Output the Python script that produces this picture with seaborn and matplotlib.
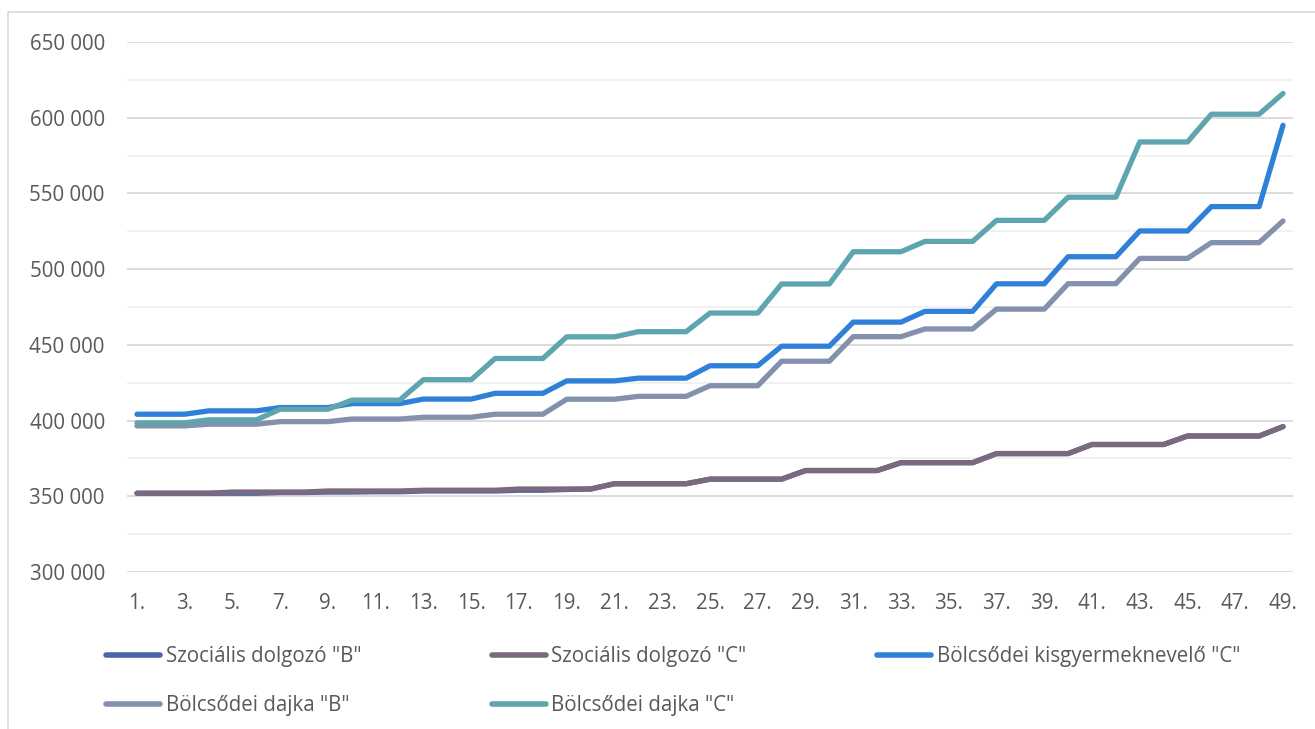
import pandas as pd
import matplotlib.pyplot as plt
import seaborn as sns
from matplotlib.patches import Rectangle
from matplotlib.ticker import MultipleLocator, FuncFormatter

# ------------------------------------------------------------------
# DATA
# ------------------------------------------------------------------
years = list(range(1, 50))
tick_years = list(range(1, 50, 2))
tick_labels = [f"{y}." for y in tick_years]

szoc_b = [352000, 352000, 352000, 352000,
          352000, 352000, 352500, 352500,
          352800, 352800, 353000, 353000,
          353500, 353500, 353500, 353500,
          354000, 354000, 354500, 354800,
          358300, 358300, 358300, 358300,
          361300, 361300, 361300, 361300,
          367000, 367000, 367000, 367000,
          372200, 372200, 372200, 372200,
          378200, 378200, 378200, 378200,
          384200, 384200, 384200, 384200,
          389800, 389800, 389800, 389800,
          396000]

szoc_c = [352000, 352000, 352000, 352000,
          352800, 352800, 352800, 352800,
          353500, 353500, 353500, 353500,
          354000, 354000, 354000, 354000,
          354800, 354800, 354800, 354800,
          358300, 358300, 358300, 358300,
          361300, 361300, 361300, 361300,
          367000, 367000, 367000, 367000,
          372200, 372200, 372200, 372200,
          378200, 378200, 378200, 378200,
          384200, 384200, 384200, 384200,
          389800, 389800, 389800, 389800,
          396000]

kisgy_c = [404200, 404200, 404200,
           406400, 406400, 406400,
           408600, 408600, 408600,
           411200, 411200, 411200,
           414200, 414200, 414200,
           418000, 418000, 418000,
           426200, 426200, 426200,
           428000, 428000, 428000,
           436200, 436200, 436200,
           449100, 449100, 449100,
           465000, 465000, 465000,
           472100, 472100, 472100,
           490300, 490300, 490300,
           508200, 508200, 508200,
           525200, 525200, 525200,
           541300, 541300, 541300,
           595000]

dajka_b = [396500, 396500, 396500,
           397600, 397600, 397600,
           399300, 399300, 399300,
           401000, 401000, 401000,
           402200, 402200, 402200,
           404200, 404200, 404200,
           414100, 414100, 414100,
           416000, 416000, 416000,
           423000, 423000, 423000,
           439200, 439200, 439200,
           455400, 455400, 455400,
           460500, 460500, 460500,
           473600, 473600, 473600,
           490400, 490400, 490400,
           507100, 507100, 507100,
           517500, 517500, 517500,
           531800]

dajka_c = [398500, 398500, 398500,
           400500, 400500, 400500,
           407500, 407500, 407500,
           413500, 413500, 413500,
           427000, 427000, 427000,
           441000, 441000, 441000,
           455300, 455300, 455300,
           458700, 458700, 458700,
           471000, 471000, 471000,
           490200, 490200, 490200,
           511500, 511500, 511500,
           518300, 518300, 518300,
           532200, 532200, 532200,
           547500, 547500, 547500,
           584000, 584000, 584000,
           602300, 602300, 602300,
           616000]

series_names = ['Szociális dolgozó "B"', 'Szociális dolgozó "C"',
                'Bölcsődei kisgyermeknevelő "C"', 'Bölcsődei dajka "B"',
                'Bölcsődei dajka "C"']
series_values = [szoc_b, szoc_c, kisgy_c, dajka_b, dajka_c]
colors = ["#4A65AC", "#7B6A7D", "#2E80D8", "#8391AD", "#5FA5AF"]

df = pd.concat(
    [pd.DataFrame({"ev": years, "ber": vals, "sorozat": name})
     for name, vals in zip(series_names, series_values)],
    ignore_index=True,
)

# ------------------------------------------------------------------
# PLOT
# ------------------------------------------------------------------
sns.set_style("white")
plt.rcParams["font.family"] = ["Open Sans", "DejaVu Sans"]
TEXT = "#595959"
FS = 14.8

fig = plt.figure(figsize=(13.15, 7.29), dpi=100)
ax = fig.add_axes([127 / 1315, 1 - 572 / 729, (1293 - 127) / 1315, (572 - 42) / 729])

sns.lineplot(data=df, x="ev", y="ber", hue="sorozat", hue_order=series_names,
             palette=dict(zip(series_names, colors)), linewidth=3.8,
             solid_capstyle="round", solid_joinstyle="round", ax=ax)

ax.set_xlim(1 - 10 / 23.875, 49 + 10 / 23.875)
ax.set_ylim(300000, 650000)
ax.yaxis.set_major_locator(MultipleLocator(50000))
ax.yaxis.set_minor_locator(MultipleLocator(25000))
ax.yaxis.set_major_formatter(FuncFormatter(lambda v, p: f"{v:,.0f}".replace(",", " ")))
ax.set_xticks(tick_years)
ax.set_xticklabels(tick_labels)

ax.grid(axis="y", which="major", color="#d9d9d9", linewidth=1.3, zorder=0)
ax.grid(axis="y", which="minor", color="#f0f0f0", linewidth=1.3, zorder=0)
ax.set_axisbelow(True)
for s in ax.spines.values():
    s.set_visible(False)
ax.tick_params(axis="both", which="both", length=0, labelsize=FS, colors=TEXT)
ax.tick_params(axis="y", pad=16)
ax.tick_params(axis="x", pad=15)
ax.set_xlabel("")
ax.set_ylabel("")

# legend: Excel fills rows first, matplotlib fills columns first
handles, labels = ax.get_legend_handles_labels()
ax.get_legend().remove()
order = [0, 3, 1, 4, 2]
leg = fig.legend([handles[i] for i in order], [labels[i] for i in order],
                 ncol=3, loc="upper left", bbox_to_anchor=(106 / 1315, 1 - 646 / 729),
                 frameon=False, fontsize=FS, handlelength=2.65, handletextpad=0.25,
                 columnspacing=6.35, labelspacing=1.35, borderaxespad=0, borderpad=0)
for t in leg.get_texts():
    t.set_color(TEXT)
for h in leg.legend_handles:
    h.set_linewidth(4)
    h.set_solid_capstyle("round")

# thin chart border
fig.patches.append(Rectangle((8 / 1315, -0.1), 1.2, 1.1 - 12 / 729, transform=fig.transFigure,
                             fill=False, edgecolor="#d9d9d9", linewidth=1.2))

fig.savefig("out.png", dpi=100)
